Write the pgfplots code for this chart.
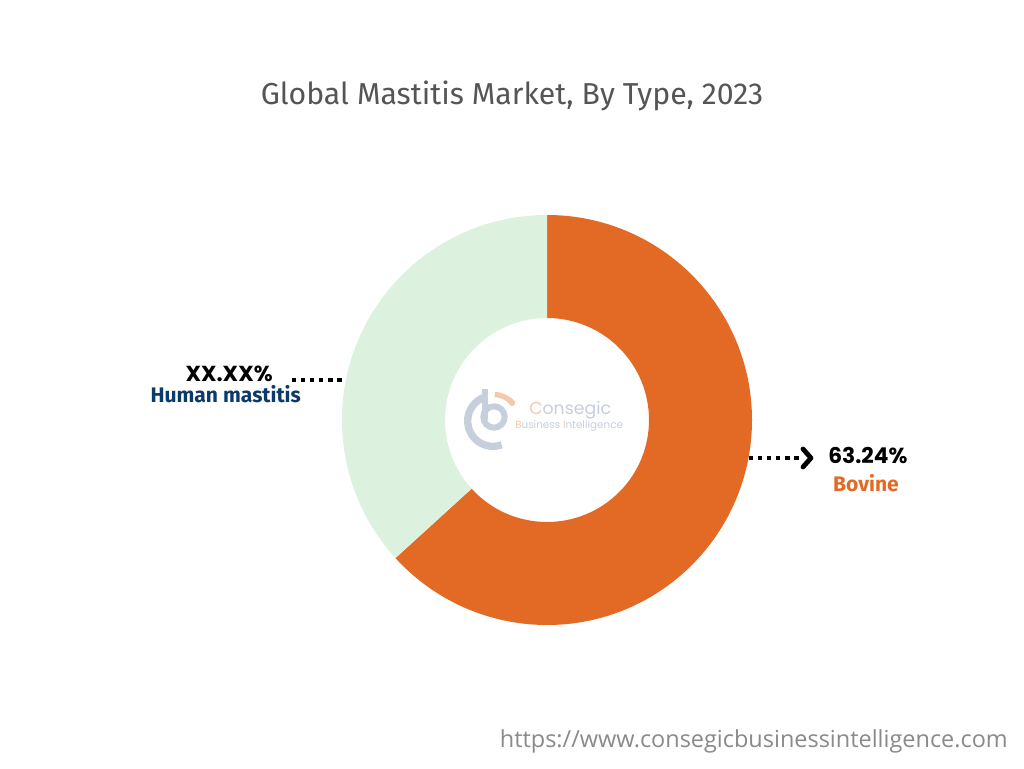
\documentclass[border=0pt]{standalone}
\usepackage{pgfplots}
\pgfplotsset{compat=1.18}
\usepackage{fontspec}
\setmainfont{Open Sans}
\newfontfamily\titlefont{Fira Sans}
\newfontfamily\logofont{Poppins}
\newfontfamily\valfont{Poppins}
\newfontfamily\catfont{Fira Sans}

\definecolor{bovine}{HTML}{E36A25}
\definecolor{human}{HTML}{DCF2DE}
\definecolor{navy}{HTML}{0B3A6B}
\definecolor{titlegray}{HTML}{555555}
\definecolor{urlgray}{HTML}{8A8A8A}
\definecolor{logoblue}{HTML}{C6CFDC}
\definecolor{logoorange}{HTML}{F4C8AE}

% shares of the two types, in percent
\def\bovineshare{63.24}

\begin{document}
\begin{tikzpicture}
\begin{axis}[
    x=0.75pt, y=0.75pt,
    xmin=0, xmax=1024, ymin=0, ymax=768,
    scale only axis, hide axis, clip=false,
]
\fill[white] (axis cs:0,0) rectangle (axis cs:1024,768);

\pgfmathsetmacro\cut{90-3.6*\bovineshare}
\pgfmathsetmacro\cutb{\cut+360}

% donut: centre (547,348), outer r 205 px, inner r 102 px
\fill[bovine] (axis cs:547,553) arc[start angle=90, end angle=\cut, radius=153.75pt]
    -- ++(\cut:-77.25pt) arc[start angle=\cut, end angle=90, radius=76.5pt] -- cycle;
\fill[human] (axis cs:547,553) arc[start angle=90, end angle=\cutb, radius=153.75pt]
    -- ++(\cutb:-77.25pt) arc[start angle=\cutb, end angle=90, radius=76.5pt] -- cycle;

% faded logo
\draw[logoblue, line width=5.5pt] (axis cs:493,347) ++(105:19pt) arc[start angle=105, end angle=290, radius=19pt];
\draw[logoblue, line width=4pt] (axis cs:485,379) -- (axis cs:485,348);
\draw[logoblue, line width=4.5pt] (axis cs:494,351) circle[radius=8pt];
\draw[logoorange, line width=4pt] (axis cs:493,347) ++(86:20pt) arc[start angle=86, end angle=40, radius=20pt];
\fill[logoorange] (axis cs:512,365) circle[radius=2.3pt];
\node[anchor=base west, inner sep=0pt, font=\logofont\fontsize{13}{16}\selectfont] at (axis cs:529,353)
    {\textcolor{logoorange}{C}\textcolor{logoblue}{onsegic}};
\node[anchor=base west, inner sep=0pt, font=\logofont\fontsize{7.8}{10}\selectfont] at (axis cs:515,339)
    {\textcolor{logoorange}{B}\textcolor{logoblue}{usiness }\textcolor{logoorange}{I}\textcolor{logoblue}{ntelligence}};

% title
\node[anchor=base, inner sep=0pt, text=titlegray, font=\titlefont\fontsize{22.7}{27}\selectfont]
    at (axis cs:512,663) {Global Mastitis Market, By Type, 2023};

% left label
\draw[black, line width=3.2pt, dash pattern=on 3.2pt off 3.6pt] (axis cs:292,388) -- (axis cs:345,388);
\node[anchor=base east, inner sep=0pt, font=\valfont\bfseries\fontsize{16.3}{20}\selectfont]
    at (axis cs:273,386) {XX.XX\%};
\node[anchor=base east, inner sep=0pt, text=navy, font=\catfont\bfseries\fontsize{15.8}{19}\selectfont]
    at (axis cs:301,365) {Human mastitis};

% right label
\draw[black, line width=3.2pt, dash pattern=on 3.2pt off 3.6pt] (axis cs:749,310) -- (axis cs:799,310);
\draw[black, line width=3.6pt, line cap=round, line join=round]
    (axis cs:803,319) -- (axis cs:811,310) -- (axis cs:803,301);
\node[anchor=base west, inner sep=0pt, font=\valfont\bfseries\fontsize{16.3}{20}\selectfont]
    at (axis cs:828,304) {63.24\%};
\node[anchor=base, inner sep=0pt, text=bovine, font=\catfont\bfseries\fontsize{15.8}{19}\selectfont]
    at (axis cs:866,276) {Bovine};

% url
\node[anchor=base east, inner sep=0pt, text=urlgray, font=\fontsize{17.6}{21}\selectfont]
    at (axis cs:1008,21) {https://www.consegicbusinessintelligence.com};
\end{axis}
\end{tikzpicture}
\end{document}
